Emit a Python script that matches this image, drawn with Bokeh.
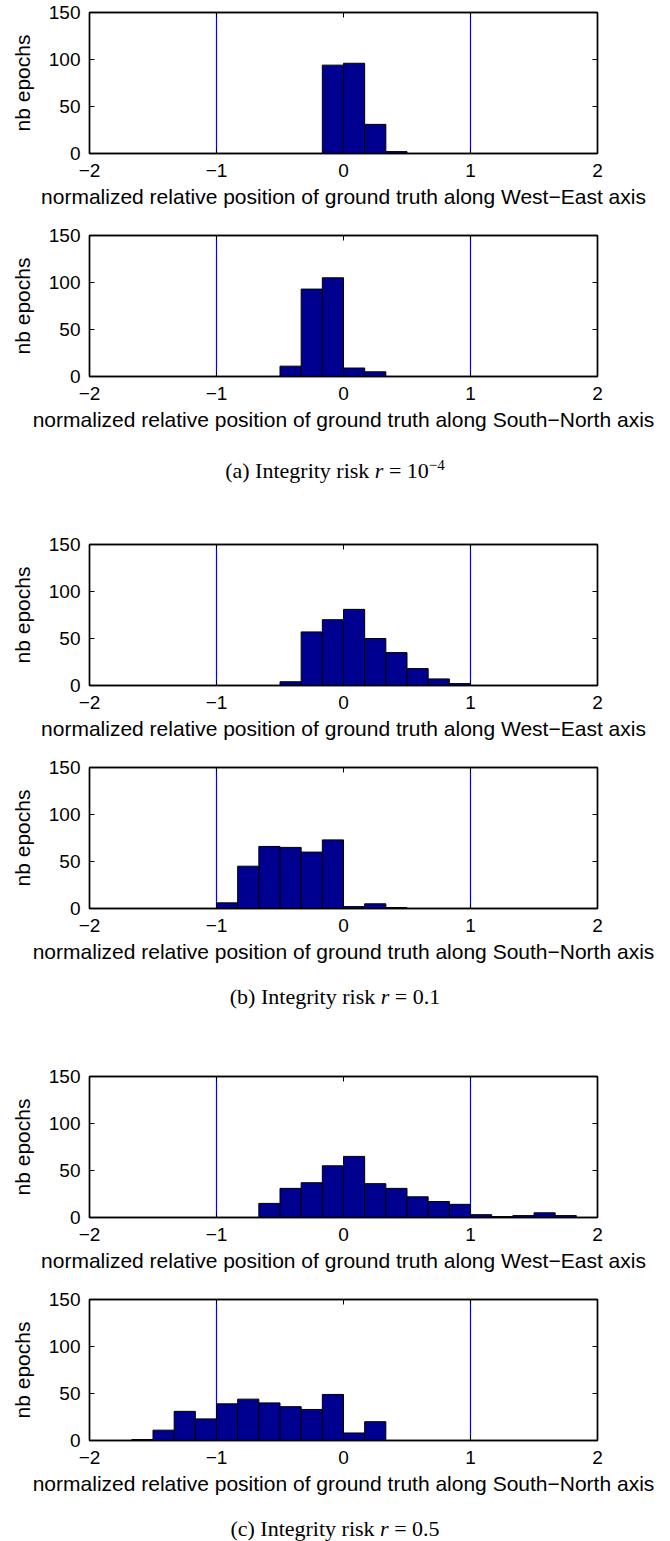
from bokeh.plotting import figure
from bokeh.models import FixedTicker, LinearAxis, Range1d, Span, Div
from bokeh.layouts import column
from bokeh.embed import file_html
from bokeh.resources import INLINE

# ---------------- data ----------------
# histogram bin edges (width 1/6) from -2 to 2
bin_edges = [-2.0, -11/6, -10/6, -9/6, -8/6, -7/6, -1.0, -5/6, -4/6, -3/6, -2/6, -1/6,
             0.0, 1/6, 2/6, 3/6, 4/6, 5/6, 1.0, 7/6, 8/6, 9/6, 10/6, 11/6, 2.0]

# counts per bin (24 bins)
we_r1e4 = [0, 0, 0, 0, 0, 0, 0, 0, 0, 0, 0, 94, 96, 31, 2, 0, 0, 0, 0, 0, 0, 0, 0, 0]
sn_r1e4 = [0, 0, 0, 0, 0, 0, 0, 0, 0, 11, 93, 105, 9, 5, 0, 0, 0, 0, 0, 0, 0, 0, 0, 0]
we_r01 = [0, 0, 0, 0, 0, 0, 0, 0, 0, 4, 57, 70, 81, 50, 35, 18, 7, 2, 0, 0, 0, 0, 0, 0]
sn_r01 = [0, 0, 0, 0, 0, 0, 6, 45, 66, 65, 60, 73, 2, 5, 1, 0, 0, 0, 0, 0, 0, 0, 0, 0]
we_r05 = [0, 0, 0, 0, 0, 0, 0, 0, 15, 31, 37, 55, 65, 36, 31, 22, 17, 14, 3, 1, 2, 5, 2, 0]
sn_r05 = [0, 0, 1, 11, 31, 23, 39, 44, 40, 36, 33, 49, 8, 20, 0, 0, 0, 0, 0, 0, 0, 0, 0, 0]

bounds = [-1, 1]
x_ticks = [-2, -1, 0, 1, 2]
y_ticks = [0, 50, 100, 150]

xlabel_we = "normalized relative position of ground truth along West\u2212East axis"
xlabel_sn = "normalized relative position of ground truth along South\u2212North axis"
ylabel = "nb epochs"
captions = [
    '(a) Integrity risk <i>r</i> = 10<sup style="font-size:15px">\u22124</sup>',
    '(b) Integrity risk <i>r</i> = 0.1',
    '(c) Integrity risk <i>r</i> = 0.5',
]

SANS = "Liberation Sans"
SERIF = "Liberation Serif"


def style_axis(ax, ticks, show_labels):
    ax.ticker = FixedTicker(ticks=ticks)
    ax.axis_line_color = "black"
    ax.axis_line_width = 1.4
    ax.major_tick_in = 5
    ax.major_tick_out = 0
    ax.major_tick_line_color = "black"
    ax.major_tick_line_width = 1
    ax.minor_tick_line_color = None
    if show_labels:
        ax.major_label_text_font = SANS
        ax.major_label_text_font_size = "19px"
        ax.major_label_text_color = "black"
        ax.major_label_overrides = {t: ("\u2212%d" % -t if t < 0 else str(t)) for t in ticks}
    else:
        ax.major_label_text_font_size = "0px"
        ax.major_label_standoff = 0
        ax.major_label_text_color = None


def panel(counts, xlabel, top_border):
    p = figure(frame_width=508, frame_height=141,
               x_range=Range1d(-2, 2), y_range=Range1d(0, 150),
               output_backend="svg", toolbar_location=None,
               min_border_left=89, min_border_right=73,
               min_border_top=top_border, min_border_bottom=64,
               background_fill_color="white", border_fill_color="white")
    p.grid.visible = False
    p.outline_line_color = "black"
    p.outline_line_width = 1.4

    for b in bounds:
        p.add_layout(Span(location=b, dimension="height", line_color="#0000FF",
                          line_width=1.2, level="underlay"))

    p.quad(left=bin_edges[:-1], right=bin_edges[1:], bottom=0, top=counts,
           fill_color="#000090", line_color="black", line_width=1)

    xa = p.xaxis[0]
    ya = p.yaxis[0]
    style_axis(xa, x_ticks, True)
    style_axis(ya, y_ticks, True)
    xa.major_label_standoff = 10
    ya.major_label_standoff = 9
    xa.axis_label = xlabel
    ya.axis_label = ylabel
    for ax in (xa, ya):
        ax.axis_label_text_font = SANS
        ax.axis_label_text_font_size = "21px"
        ax.axis_label_text_font_style = "normal"
        ax.axis_label_text_color = "black"
    xa.axis_label_standoff = 5
    ya.axis_label_standoff = 12

    ra = LinearAxis()
    ta = LinearAxis()
    p.add_layout(ra, "right")
    p.add_layout(ta, "above")
    style_axis(ra, y_ticks, False)
    style_axis(ta, x_ticks, False)
    return p


def caption(html, height):
    return Div(text='<div style="width:670px;text-align:center;font-family:\'%s\',serif;'
                    'font-size:22px;line-height:26px;padding-top:12px;color:black;">%s</div>'
                    % (SERIF, html),
               width=670, height=height, margin=0)


layout = column(
    panel(we_r1e4, xlabel_we, 12),
    panel(sn_r1e4, xlabel_sn, 18),
    caption(captions[0], 58),
    panel(we_r01, xlabel_we, 46),
    panel(sn_r01, xlabel_sn, 18),
    caption(captions[1], 58),
    panel(we_r05, xlabel_we, 46),
    panel(sn_r05, xlabel_sn, 18),
    caption(captions[2], 37),
    spacing=0,
)

open("out.html", "w").write(file_html(layout, INLINE))
